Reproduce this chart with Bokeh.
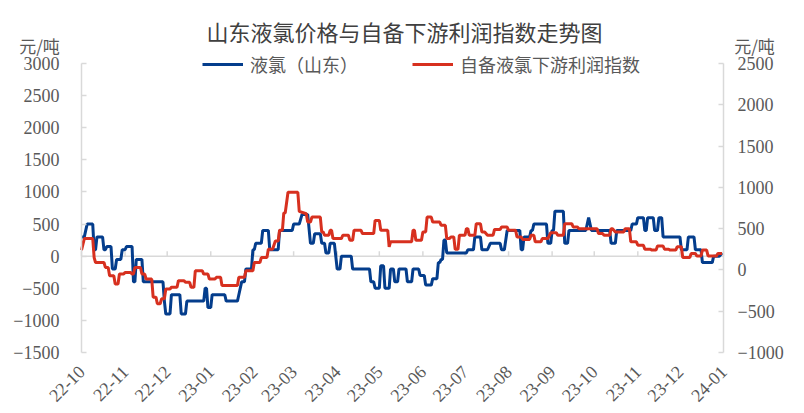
import math
import pandas as pd
from bokeh.plotting import figure
from bokeh.models import (Range1d, LinearAxis, FixedTicker, Legend, LegendItem,
                          Label, DatetimeTickFormatter)
from bokeh.embed import file_html
from bokeh.resources import INLINE

title_text = "山东液氯价格与自备下游利润指数走势图"
unit_text = "元/吨"
series_names = ["液氯（山东）", "自备液氯下游利润指数"]
month_labels = ["22-10", "22-11", "22-12", "23-01", "23-02", "23-03", "23-04", "23-05",
                "23-06", "23-07", "23-08", "23-09", "23-10", "23-11", "23-12", "24-01"]
left_ticks = [-1500, -1000, -500, 0, 500, 1000, 1500, 2000, 2500, 3000]
right_ticks = [-1000, -500, 0, 500, 1000, 1500, 2000, 2500]

blue_dates = [
    "2022-10-01", "2022-10-03", "2022-10-05", "2022-10-09", "2022-10-10", "2022-10-11", "2022-10-12",
    "2022-10-16", "2022-10-17", "2022-10-18", "2022-10-19", "2022-10-22", "2022-10-23", "2022-10-25",
    "2022-10-26", "2022-10-29", "2022-10-30", "2022-11-01", "2022-11-02", "2022-11-06", "2022-11-07",
    "2022-11-08", "2022-11-09", "2022-11-13", "2022-11-14", "2022-11-28", "2022-11-29", "2022-11-30",
    "2022-12-03", "2022-12-04", "2022-12-10", "2022-12-11", "2022-12-14", "2022-12-15", "2022-12-27",
    "2022-12-28", "2022-12-29", "2022-12-30", "2023-01-01", "2023-01-02", "2023-01-11", "2023-01-12",
    "2023-01-20", "2023-01-21", "2023-01-23", "2023-01-25", "2023-01-26", "2023-01-30", "2023-01-31",
    "2023-02-01", "2023-02-02", "2023-02-06", "2023-02-07", "2023-02-11", "2023-02-12", "2023-02-18",
    "2023-02-19", "2023-02-28", "2023-03-01", "2023-03-05", "2023-03-07", "2023-03-11", "2023-03-13",
    "2023-03-15", "2023-03-16", "2023-03-20", "2023-03-21", "2023-03-23", "2023-03-24", "2023-03-26",
    "2023-03-27", "2023-03-30", "2023-04-01", "2023-04-03", "2023-04-04", "2023-04-11", "2023-04-12",
    "2023-04-24", "2023-04-25", "2023-04-27", "2023-04-28", "2023-05-01", "2023-05-02", "2023-05-04",
    "2023-05-05", "2023-05-08", "2023-05-09", "2023-05-11", "2023-05-12", "2023-05-14", "2023-05-15",
    "2023-05-20", "2023-05-21", "2023-05-24", "2023-05-25", "2023-05-29", "2023-05-30", "2023-06-02",
    "2023-06-03", "2023-06-07", "2023-06-08", "2023-06-11", "2023-06-12", "2023-06-13", "2023-06-14",
    "2023-06-15", "2023-06-16", "2023-06-17", "2023-06-18", "2023-07-02", "2023-07-03", "2023-07-07",
    "2023-07-08", "2023-07-12", "2023-07-13", "2023-07-17", "2023-07-19", "2023-07-26", "2023-07-27",
    "2023-07-29", "2023-07-31", "2023-08-09", "2023-08-10", "2023-08-11", "2023-08-12", "2023-08-16",
    "2023-08-17", "2023-08-18", "2023-08-19", "2023-08-28", "2023-08-29", "2023-08-31", "2023-09-01",
    "2023-09-02", "2023-09-03", "2023-09-09", "2023-09-10", "2023-09-12", "2023-09-13", "2023-09-25",
    "2023-09-27", "2023-09-29", "2023-10-12", "2023-10-13", "2023-10-16", "2023-10-17", "2023-10-27",
    "2023-10-28", "2023-10-31", "2023-11-01", "2023-11-05", "2023-11-06", "2023-11-07", "2023-11-08",
    "2023-11-12", "2023-11-13", "2023-11-15", "2023-11-16", "2023-11-18", "2023-11-19", "2023-12-01",
    "2023-12-02", "2023-12-06", "2023-12-07", "2023-12-11", "2023-12-12", "2023-12-16", "2023-12-17",
    "2023-12-24", "2023-12-25", "2023-12-29", "2023-12-31"]
blue_values = [
    300, 300, 500, 500, 100, 100, 300,
    300, 100, 100, 150, 150, -200, -200,
    -50, -50, 100, 100, 150, 150, -400,
    -400, -50, -50, -400, -400, -700, -900,
    -900, -600, -600, -900, -900, -700, -700,
    -500, -500, -800, -800, -600, -600, -700,
    -700, -600, -400, -400, -200, -200, 100,
    100, 200, 200, 400, 400, 100, 100,
    400, 400, 500, 500, 650, 650, 200,
    200, 350, 350, 200, 200, 50, 50,
    200, 200, -200, -200, 0, 0, -200,
    -200, -400, -400, -500, -500, -150, -150,
    -500, -500, -200, -200, -400, -400, -200,
    -200, -400, -400, -200, -200, -300, -300,
    -450, -450, -350, -350, -100, -100, -50,
    -50, 250, 250, 50, 50, 100, 100,
    300, 300, 100, 100, 200, 200, 100,
    100, 400, 400, 100, 100, 300, 300,
    400, 400, 500, 500, 200, 200, 400,
    400, 700, 700, 200, 200, 400, 400,
    600, 400, 400, 200, 200, 400, 400,
    500, 500, 600, 600, 400, 400, 600,
    600, 400, 400, 600, 600, 300, 300,
    100, 100, 300, 300, 100, 100, -100,
    -100, 0, 0, 50]

red_dates = [
    "2022-10-01", "2022-10-03", "2022-10-09", "2022-10-10", "2022-10-11", "2022-10-17", "2022-10-18",
    "2022-10-20", "2022-10-21", "2022-10-24", "2022-10-25", "2022-10-27", "2022-10-28", "2022-10-31",
    "2022-11-01", "2022-11-05", "2022-11-06", "2022-11-07", "2022-11-08", "2022-11-12", "2022-11-13",
    "2022-11-15", "2022-11-16", "2022-11-20", "2022-11-21", "2022-11-23", "2022-11-24", "2022-11-26",
    "2022-11-27", "2022-11-29", "2022-11-30", "2022-12-03", "2022-12-04", "2022-12-08", "2022-12-09",
    "2022-12-13", "2022-12-14", "2022-12-17", "2022-12-18", "2022-12-20", "2022-12-21", "2022-12-26",
    "2022-12-27", "2022-12-30", "2022-12-31", "2023-01-04", "2023-01-05", "2023-01-08", "2023-01-09",
    "2023-01-20", "2023-01-21", "2023-01-25", "2023-01-26", "2023-01-31", "2023-02-01", "2023-02-05",
    "2023-02-06", "2023-02-10", "2023-02-11", "2023-02-14", "2023-02-16", "2023-02-18", "2023-02-19",
    "2023-02-21", "2023-02-22", "2023-02-23", "2023-02-25", "2023-03-04", "2023-03-05", "2023-03-10",
    "2023-03-11", "2023-03-13", "2023-03-14", "2023-03-20", "2023-03-21", "2023-03-22", "2023-03-23",
    "2023-03-26", "2023-03-27", "2023-03-28", "2023-03-29", "2023-04-04", "2023-04-05", "2023-04-09",
    "2023-04-10", "2023-04-12", "2023-04-13", "2023-04-18", "2023-04-19", "2023-04-27", "2023-04-28",
    "2023-05-01", "2023-05-02", "2023-05-07", "2023-05-08", "2023-05-09", "2023-05-24", "2023-05-25",
    "2023-05-26", "2023-05-27", "2023-05-31", "2023-06-01", "2023-06-03", "2023-06-04", "2023-06-07",
    "2023-06-08", "2023-06-13", "2023-06-14", "2023-06-17", "2023-06-18", "2023-06-20", "2023-06-21",
    "2023-06-23", "2023-06-24", "2023-06-26", "2023-06-27", "2023-07-01", "2023-07-02", "2023-07-03",
    "2023-07-04", "2023-07-08", "2023-07-09", "2023-07-12", "2023-07-13", "2023-07-15", "2023-07-17",
    "2023-07-21", "2023-07-22", "2023-07-26", "2023-07-27", "2023-07-31", "2023-08-01", "2023-08-06",
    "2023-08-07", "2023-08-10", "2023-08-11", "2023-08-16", "2023-08-17", "2023-08-19", "2023-08-20",
    "2023-08-24", "2023-08-25", "2023-08-29", "2023-08-31", "2023-09-04", "2023-09-05", "2023-09-09",
    "2023-09-10", "2023-09-15", "2023-09-16", "2023-09-19", "2023-09-20", "2023-10-03", "2023-10-04",
    "2023-10-07", "2023-10-08", "2023-10-12", "2023-10-13", "2023-10-14", "2023-10-16", "2023-10-22",
    "2023-10-23", "2023-10-26", "2023-10-27", "2023-10-31", "2023-11-01", "2023-11-05", "2023-11-06",
    "2023-11-10", "2023-11-11", "2023-11-14", "2023-11-15", "2023-11-19", "2023-11-20", "2023-11-23",
    "2023-11-24", "2023-11-28", "2023-11-29", "2023-12-02", "2023-12-03", "2023-12-08", "2023-12-09",
    "2023-12-12", "2023-12-13", "2023-12-16", "2023-12-17", "2023-12-20", "2023-12-21", "2023-12-27",
    "2023-12-28", "2023-12-31"]
red_values = [
    240, 380, 380, 150, 90, 90, 30,
    30, -70, -70, -170, -170, -50, -50,
    -30, -30, -50, -50, 30, 30, -50,
    -50, -110, -110, -330, -330, -410, -410,
    -350, -350, -230, -230, -210, -210, -130,
    -130, -150, -150, -210, -210, -10, -10,
    -50, -50, -110, -110, -90, -90, -190,
    -190, -90, -90, -10, -10, 90, 90,
    150, 150, 250, 250, 350, 350, 480,
    480, 690, 690, 940, 940, 710, 680,
    580, 580, 640, 640, 460, 460, 420,
    420, 480, 480, 380, 380, 420, 420,
    360, 360, 480, 480, 440, 440, 600,
    600, 480, 480, 280, 340, 340, 480,
    480, 360, 360, 460, 460, 640, 640,
    580, 580, 540, 540, 380, 380, 400,
    400, 250, 250, 420, 420, 500, 500,
    420, 420, 560, 560, 460, 460, 420,
    420, 490, 490, 520, 520, 480, 480,
    400, 400, 370, 370, 420, 420, 340,
    340, 380, 380, 450, 450, 420, 420,
    560, 560, 520, 520, 500, 500, 440,
    440, 420, 420, 500, 500, 460, 460,
    500, 500, 340, 340, 300, 300, 250,
    250, 240, 240, 290, 290, 250, 250,
    240, 240, 280, 280, 150, 150, 200,
    200, 170, 170, 240, 240, 170, 170,
    200, 200]

# ---- styling / layout constants ----
BLUE = "#043d8c"
RED = "#d7301f"
GRAY = "#d9d9d9"
TXT = "#595959"
NUM_FONT = "Liberation Serif"
CJK_FONT = "Noto Sans CJK SC"
W, H = 800, 410                 # canvas (frame covers it all)
AX_L, AX_R, AX_T, AX_B = 81, 723, 63, 352   # where the axes box sits, in pixels

month_dates = pd.to_datetime(["20" + m + "-01" for m in month_labels])
tick_ms = [float(d.value // 10**6) for d in month_dates]

# ranges extended so that the axes box lands at the wanted pixels
x0, x1 = tick_ms[0], tick_ms[-1]
xs = (x1 - x0) / (AX_R - AX_L)
x_range = Range1d(x0 - AX_L * xs, x1 + (W - AX_R) * xs)

def ext_range(lo, hi):
    s = (hi - lo) / (AX_B - AX_T)
    return Range1d(lo - (H - AX_B) * s, hi + AX_T * s)

y_range = ext_range(left_ticks[0], left_ticks[-1])
y2_range = ext_range(right_ticks[0], right_ticks[-1])

p = figure(width=W, height=H, x_axis_type="datetime", x_range=x_range, y_range=y_range,
           output_backend="svg", toolbar_location=None,
           min_border=0, min_border_left=0, min_border_right=0,
           min_border_top=0, min_border_bottom=0)
p.extra_y_ranges = {"right": y2_range}
p.outline_line_color = None
p.xgrid.visible = False
p.ygrid.visible = False

ly = p.yaxis[0]
ly.ticker = FixedTicker(ticks=left_ticks)
ly.fixed_location = x0
ly.bounds = (left_ticks[0], left_ticks[-1])
ry = LinearAxis(y_range_name="right", ticker=FixedTicker(ticks=right_ticks),
                fixed_location=x1, bounds=(right_ticks[0], right_ticks[-1]))
p.add_layout(ry, "right")
for ax, so in ((ly, 22), (ry, 14)):
    ax.axis_line_color = GRAY
    ax.axis_line_width = 1.5
    ax.major_tick_line_color = GRAY
    ax.major_tick_line_width = 1.5
    ax.major_tick_in = 5
    ax.major_tick_out = 0
    ax.minor_tick_line_color = None
    ax.major_label_text_font = NUM_FONT
    ax.major_label_text_font_size = "18px"
    ax.major_label_text_color = TXT
    ax.major_label_standoff = so

xa = p.xaxis[0]
xa.ticker = FixedTicker(ticks=tick_ms)
xa.fixed_location = left_ticks[0]
xa.bounds = (x0, x1)
xa.formatter = DatetimeTickFormatter(days="%y-%m", months="%y-%m", years="%y-%m")
xa.major_label_overrides = {t: lab for t, lab in zip(tick_ms, month_labels)}
xa.major_label_orientation = math.pi / 4
xa.axis_line_color = None
xa.major_tick_line_color = None
xa.minor_tick_line_color = None
xa.major_label_text_font = NUM_FONT
xa.major_label_text_font_size = "18px"
xa.major_label_text_color = TXT
xa.major_label_standoff = 10

# zero line with small month ticks
p.segment(x0=[x0], y0=[0], x1=[x1], y1=[0], line_color=GRAY, line_width=1.5)
p.segment(x0=list(month_dates), y0=[0] * len(month_dates), x1=list(month_dates),
          y1=[75] * len(month_dates), line_color=GRAY, line_width=1.5)

bl = p.line(pd.to_datetime(blue_dates), blue_values, line_color=BLUE, line_width=3)
rl = p.line(pd.to_datetime(red_dates), red_values, line_color=RED, line_width=3,
            y_range_name="right")

legend = Legend(items=[LegendItem(label=series_names[0], renderers=[bl]),
                       LegendItem(label=series_names[1], renderers=[rl])],
                location=(202, H - 77), orientation="horizontal",
                border_line_color=None, background_fill_alpha=0,
                glyph_width=41, glyph_height=18, label_standoff=7, spacing=54,
                padding=0, margin=0,
                label_text_font=CJK_FONT, label_text_font_size="18px",
                label_text_color=TXT)
p.add_layout(legend)

p.add_layout(Label(x=404, y=H - 30, x_units="screen", y_units="screen", text=title_text,
                   text_align="center", text_baseline="middle", text_font=CJK_FONT,
                   text_font_size="22px", text_color="#404040"))
p.add_layout(Label(x=39, y=H - 45, x_units="screen", y_units="screen", text=unit_text,
                   text_align="center", text_baseline="middle", text_font=CJK_FONT,
                   text_font_size="17px", text_color=TXT))
p.add_layout(Label(x=754, y=H - 45, x_units="screen", y_units="screen", text=unit_text,
                   text_align="center", text_baseline="middle", text_font=CJK_FONT,
                   text_font_size="17px", text_color=TXT))

open("out.html", "w").write(file_html(p, INLINE))
